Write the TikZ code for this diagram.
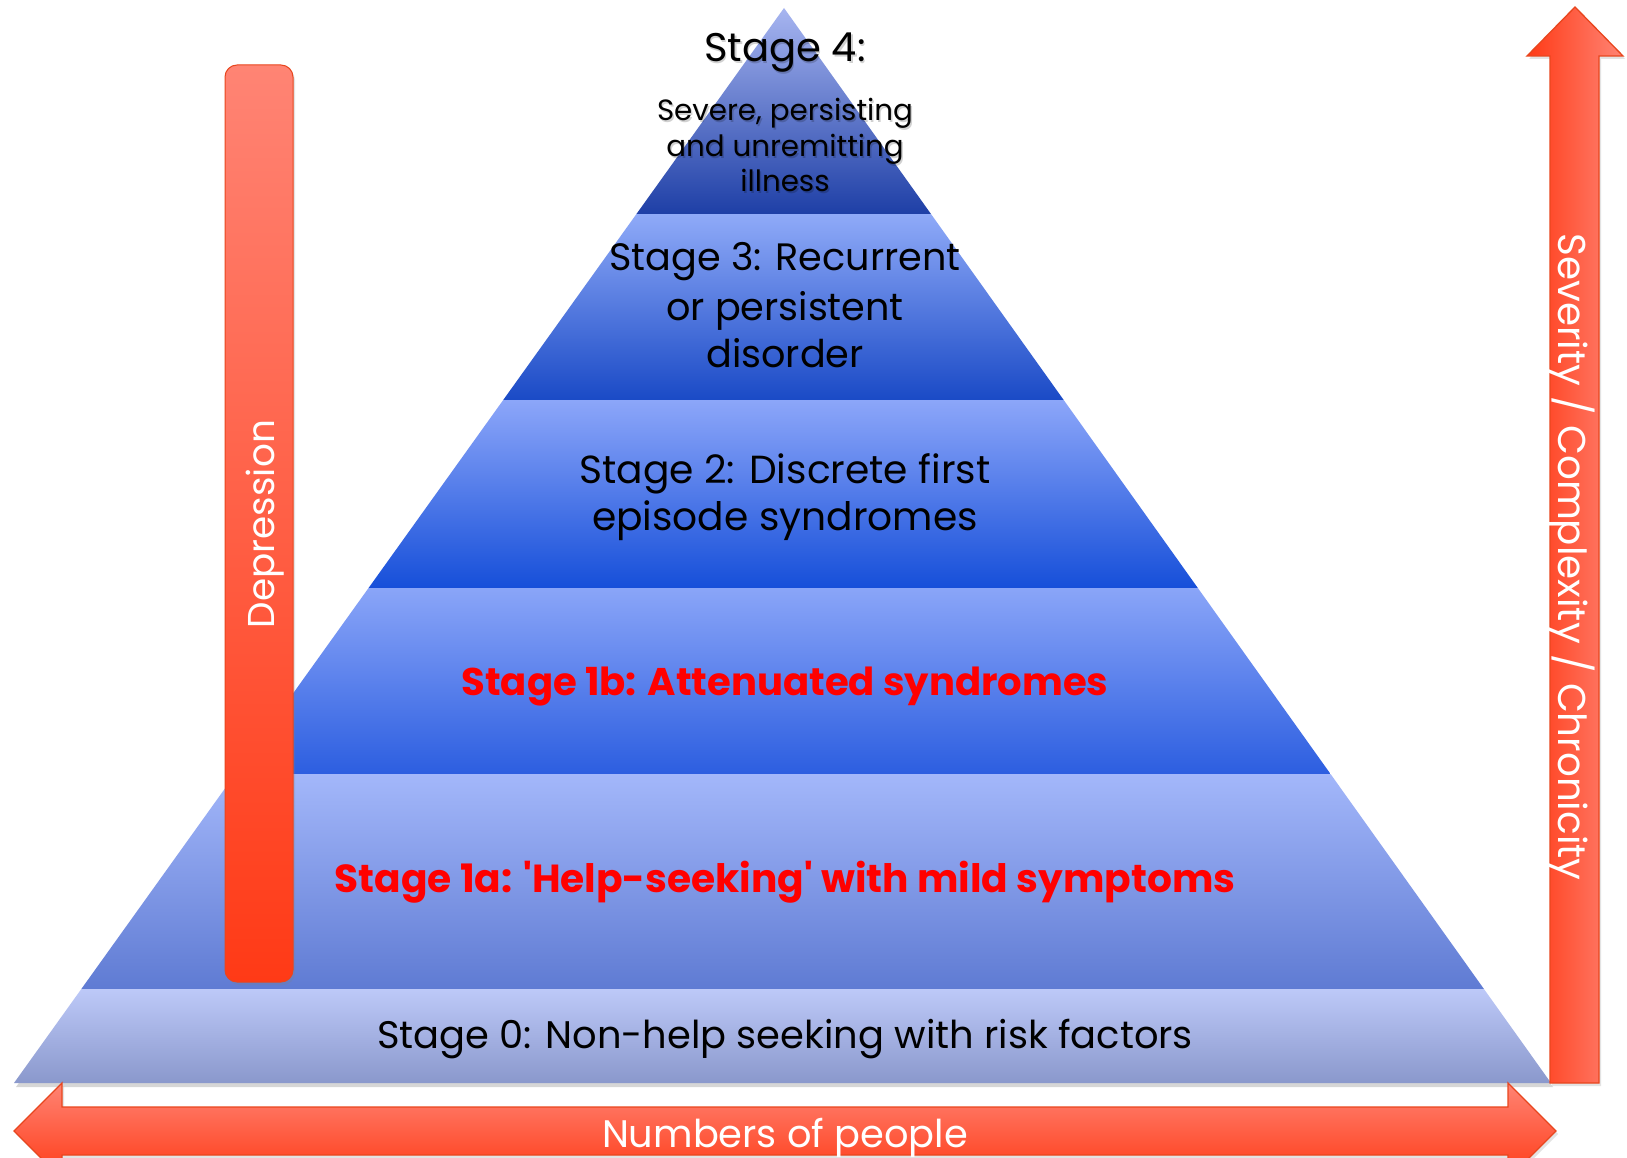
\documentclass[tikz,border=0pt]{standalone}
\usepackage{fontspec}
\setmainfont{Poppins}
\usetikzlibrary{calc,shadows}

\definecolor{edgered}{HTML}{E8461E}
\definecolor{stagered}{HTML}{FF0000}
\definecolor{salmon}{HTML}{FF8474}
\definecolor{hotred}{HTML}{FF3A16}

% font size that makes a sample line #2 units wide (#4 if it cannot be measured)
\newlength\fitlen
\newcommand\fitsize[4]{%
  \setbox0=\hbox{\fontsize{10pt}{12pt}\selectfont#3}\fitlen=\wd0
  \ifdim\fitlen>1pt \pgfmathsetmacro#1{10*#2/\fitlen}\else\def#1{#4}\fi
  \global\let#1#1}

\AtBeginDocument{%
  \fitsize\fsFourA{170}{Stage 4:}{40}%
  \fitsize\fsFour{256}{Severe, persisting}{26}%
  \fitsize\fsThree{351}{Stage 3: Recurrent}{33}%
  \fitsize\fsTwo{411}{Stage 2: Discrete first}{33}%
  \fitsize\fsOneB{647}{\bfseries Stage 1b: Attenuated syndromes}{38}%
  \fitsize\fsOneA{901}{\bfseries Stage 1a: \textquotesingle Help-seeking\textquotesingle\ with mild symptoms}{36}%
  \fitsize\fsZero{816}{Stage 0: Non-help seeking with risk factors}{34}%
  \fitsize\fsNum{366}{Numbers of people}{34}%
  \fitsize\fsDep{208}{Depression}{34}%
  \fitsize\fsSev{647}{Severity / Complexity / Chronicity}{34}}

% one band of the pyramid between heights #1 and #2, shaded from #3 via #4 to #5
\newcommand\pyrlayer[5]{%
  \definecolor{bandtop}{HTML}{#3}\definecolor{bandmid}{HTML}{#4}\definecolor{bandbot}{HTML}{#5}%
  \shade[top color=bandtop, middle color=bandmid, bottom color=bandbot]
    ($(BL)!{(1083-#1)/1075}!(A)$) -- ($(BR)!{(1083-#1)/1075}!(A)$) --
    ($(BR)!{(1083-#2)/1075}!(A)$) -- ($(BL)!{(1083-#2)/1075}!(A)$) -- cycle;}

\tikzset{
  lbl/.style={anchor=base, inner sep=0pt, text=black},
  redlbl/.style={lbl, text=stagered},
  whitelbl/.style={anchor=base, inner sep=0pt, text=white},
  shadowlbl/.style={lbl, text=black, opacity=0.18},
  redshape/.style={draw=edgered, line width=1.3pt, line join=miter},
  softshadow/.style={drop shadow={opacity=0.22, shadow xshift=2pt, shadow yshift=-3pt}}
}

\begin{document}
\begin{tikzpicture}[x=1pt, y=-1pt]
\fill[white] (0,0) rectangle (1627,1158);
\useasboundingbox (0,0) rectangle (1627,1158);
\clip (0,0) rectangle (1627,1158);

% pyramid corners
\coordinate (A)  at (784,8);
\coordinate (BL) at (14,1083);
\coordinate (BR) at (1551,1083);

% pyramid shadow
\fill[black, opacity=0.16] ([shift={(2,4)}]A) -- ([shift={(2,4)}]BR) -- ([shift={(2,4)}]BL) -- cycle;

% bands, top to bottom
\pyrlayer{8}{214}{A7B5F0}{6279D8}{1E3FA6}
\pyrlayer{214}{400}{8FAAF8}{5479E6}{1A4AC6}
\pyrlayer{400}{588}{8CA6F9}{527AEC}{164FD9}
\pyrlayer{588}{774}{8AA5F8}{5C80EE}{2C5EE0}
\pyrlayer{774}{989}{A3B7FA}{8099E8}{5F7BD3}
\pyrlayer{989}{1083}{BDC9F8}{A6B2E6}{8A98CC}

% vertical arrow: severity
\shade[redshape, softshadow, left color=hotred, right color=salmon]
  (1575,7) -- (1623,56) -- (1599,56) -- (1599,1083) -- (1550,1083) -- (1550,56) -- (1527,56) -- cycle;

% horizontal double arrow: numbers of people
\shade[redshape, softshadow, top color=salmon, bottom color=hotred]
  (14,1131) -- (62,1083) -- (62,1107) -- (1508,1107) -- (1508,1083) -- (1556,1131)
  -- (1508,1179) -- (1508,1155) -- (62,1155) -- (62,1179) -- cycle;

% depression bar
\shade[redshape, line width=1pt, softshadow, rounded corners=12pt, top color=salmon, bottom color=hotred]
  (225,65) rectangle (293,982);

% stage 4, with a soft text shadow
\node[shadowlbl, font=\fontsize{\fsFourA}{\fsFourA}\selectfont] (s4hsh) at (786.5,63.5) {Stage 4:};
\node[lbl, font=\fontsize{\fsFourA}{\fsFourA}\selectfont] (s4h) at (785,62) {Stage 4:};
\node[shadowlbl, font=\fontsize{\fsFour}{\fsFour}\selectfont] (s4ash) at (786.5,122.5) {Severe, persisting};
\node[shadowlbl, font=\fontsize{\fsFour}{\fsFour}\selectfont] (s4bsh) at (786.5,158.5) {and unremitting};
\node[shadowlbl, font=\fontsize{\fsFour}{\fsFour}\selectfont] (s4csh) at (786.5,193.5) {illness};
\node[lbl, font=\fontsize{\fsFour}{\fsFour}\selectfont] (s4a) at (785,121) {Severe, persisting};
\node[lbl, font=\fontsize{\fsFour}{\fsFour}\selectfont] (s4b) at (785,157) {and unremitting};
\node[lbl, font=\fontsize{\fsFour}{\fsFour}\selectfont] (s4c) at (785,192) {illness};

% stage 3
\node[lbl, font=\fontsize{\fsThree}{\fsThree}\selectfont] (s3a) at (785,271) {Stage 3: Recurrent};
\node[lbl, font=\fontsize{\fsThree}{\fsThree}\selectfont] (s3b) at (785,320) {or persistent};
\node[lbl, font=\fontsize{\fsThree}{\fsThree}\selectfont] (s3c) at (785,367) {disorder};

% stage 2
\node[lbl, font=\fontsize{\fsTwo}{\fsTwo}\selectfont] (s2a) at (785,483) {Stage 2: Discrete first};
\node[lbl, font=\fontsize{\fsTwo}{\fsTwo}\selectfont] (s2b) at (785,530) {episode syndromes};

% stage 1b, 1a, 0
\node[redlbl, font=\fontsize{\fsOneB}{\fsOneB}\selectfont\bfseries] (s1b) at (785,695) {Stage 1b: Attenuated syndromes};
\node[redlbl, font=\fontsize{\fsOneA}{\fsOneA}\selectfont\bfseries] (s1a) at (785,892)
  {Stage 1a: \textquotesingle Help-seeking\textquotesingle\ with mild symptoms};
\node[lbl, font=\fontsize{\fsZero}{\fsZero}\selectfont] (s0) at (785,1048) {Stage 0: Non-help seeking with risk factors};

% arrow and bar captions
\node[whitelbl, font=\fontsize{\fsNum}{\fsNum}\selectfont] (num) at (785,1147) {Numbers of people};
\node[whitelbl, rotate=90, font=\fontsize{\fsDep}{\fsDep}\selectfont] (dep) at (274,524) {Depression};
\node[whitelbl, rotate=-90, font=\fontsize{\fsSev}{\fsSev}\selectfont] (sev) at (1558,557) {Severity / Complexity / Chronicity};
\end{tikzpicture}
\end{document}
